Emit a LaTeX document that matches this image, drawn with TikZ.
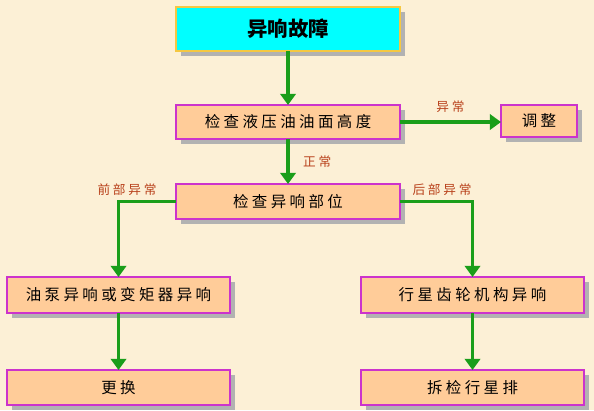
\documentclass[tikz,border=0pt]{standalone}
\usepackage{fontspec}
\newfontfamily\cjk{Noto Sans CJK SC}
\newfontfamily\cjkwide[LetterSpace=22]{Noto Sans CJK SC}
\usetikzlibrary{arrows.meta,shadows}

\definecolor{paper}{HTML}{FCF0D6}
\definecolor{boxfill}{HTML}{FFCC99}
\definecolor{boxline}{HTML}{CC33CC}
\definecolor{topfill}{HTML}{00FFFF}
\definecolor{topline}{HTML}{F5C842}
\definecolor{flowgreen}{HTML}{1A9E1A}
\definecolor{tagred}{HTML}{B8401A}

\tikzset{
  box/.style={draw=boxline, fill=boxfill, line width=0.9pt, outer sep=0, inner sep=0,
    anchor=north west, font=\cjkwide\fontsize{11}{13}\selectfont,
    drop shadow={shadow xshift=3.5pt, shadow yshift=-3.5pt, fill=black!30, opacity=1}},
  topbox/.style={box, draw=topline, fill=topfill, line width=1.4pt,
    font=\cjk\bfseries\fontsize{14.5}{16}\selectfont},
  flow/.style={draw=flowgreen, line width=2.8pt,
    -{Triangle[length=8pt, width=11pt]}},
  tag/.style={text=tagred, font=\cjkwide\fontsize{9}{10}\selectfont}
}

\begin{document}
\begin{tikzpicture}[x=0.025cm, y=-0.025cm]
  \fill[paper] (0,0) rectangle (594,410);

  \node[topbox, minimum width=5.6cm, minimum height=1.1cm] (fault) at (176,7) {异响故障};

  \node[box, minimum width=5.6cm, minimum height=0.85cm] (level) at (176,105) {检查液压油油面高度};
  \node[box, minimum width=1.9cm, minimum height=0.8cm] (adjust) at (501,105) {调整};

  \node[box, minimum width=5.6cm, minimum height=0.875cm] (locate) at (176,184) {检查异响部位};

  \node[box, minimum width=5.575cm, minimum height=0.9cm] (front) at (7,277) {油泵异响或变矩器异响};
  \node[box, minimum width=5.575cm, minimum height=0.9cm] (rear) at (361,277) {行星齿轮机构异响};

  \node[box, minimum width=5.575cm, minimum height=0.875cm] (replace) at (7,370) {更换};
  \node[box, minimum width=5.575cm, minimum height=0.875cm] (planet) at (361,370) {拆检行星排};

  % connectors
  \draw[flow] (fault.south) -- (level.north);
  \draw[flow] (level.east) -- (level.east -| adjust.west) node[tag, midway, above=2pt] (abn) {异常};
  \draw[flow] (level.south) -- (locate.north) node[tag, midway, right=6pt] (ok) {正常};
  \draw[flow] (locate.west) -| (front.north);
  \draw[flow] (locate.east) -| (rear.north);
  \draw[flow] (front.south) -- (replace.north);
  \draw[flow] (rear.south) -- (planet.north);

  \node[tag] (fronttag) at (127,190) {前部异常};
  \node[tag] (reartag) at (442,190) {后部异常};
\end{tikzpicture}
\end{document}
